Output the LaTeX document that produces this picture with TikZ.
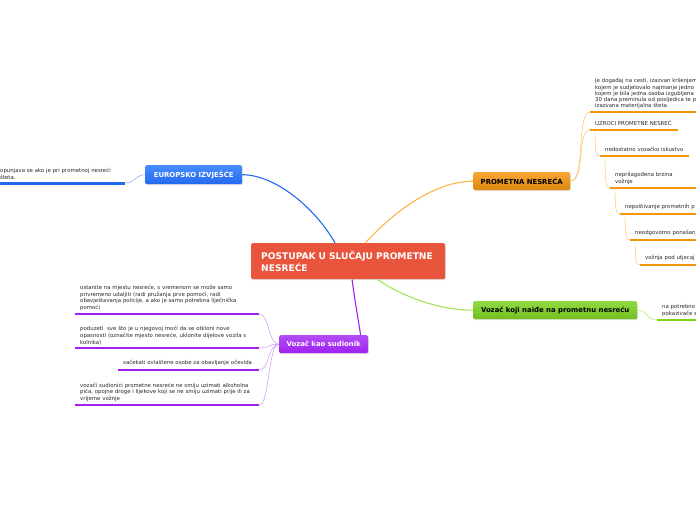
\documentclass[tikz,border=0pt]{standalone}
\usepackage{fontspec}
\setmainfont{DejaVu Sans}
\usetikzlibrary{shadows}

\definecolor{crvena}{RGB}{233,85,60}
\definecolor{plava}{RGB}{35,105,240}
\definecolor{plavasvj}{RGB}{70,140,255}
\definecolor{narancasta}{RGB}{245,150,15}
\definecolor{narancastasvj}{RGB}{252,180,70}
\definecolor{zelena}{RGB}{126,211,33}
\definecolor{zelenasvj}{RGB}{160,230,80}
\definecolor{ljubicasta}{RGB}{160,32,240}
\definecolor{ljubicastasvj}{RGB}{195,130,245}
\definecolor{tekst}{RGB}{40,40,40}

\tikzset{
  tema/.style={rounded corners=1.5pt, anchor=north west, inner sep=0pt,
    font=\bfseries\fontsize{6.9}{8}\selectfont,
    drop shadow={shadow xshift=0.6pt, shadow yshift=-1pt, opacity=0.25}},
  podtema/.style={anchor=south west, inner xsep=5pt, inner ysep=3pt, align=left,
    text=tekst, font=\fontsize{5.4}{6.8}\selectfont},
  grana/.style={line width=1.1pt},
  crta/.style={line width=2pt},
}

\begin{document}
\begin{tikzpicture}[x=1pt, y=-1pt]
    \useasboundingbox (0,0) rectangle (696,520);

    % Sredisnja tema
    \node[tema, fill=crvena, text=white, minimum width=194pt, minimum height=36pt,
      text width=174pt, inner xsep=10pt, align=left,
      font=\bfseries\fontsize{9.1}{11.5}\selectfont] (sredina) at (251,243)
      {POSTUPAK U SLUČAJU PROMETNE\\NESREĆE};

    % Glavne grane
    \node[tema, top color=plavasvj, bottom color=plava, text=white,
      minimum width=97pt, minimum height=19pt] (europsko) at (145,165) {EUROPSKO IZVJEŠĆE};
    \node[tema, top color=narancasta!85!white, bottom color=narancasta!90!black,
      minimum width=97pt, minimum height=18pt] (prometna) at (473,172) {PROMETNA NESREĆA};
    \node[tema, top color=zelena!85!white, bottom color=zelena!90!black,
      minimum width=164pt, minimum height=18pt] (naide) at (473,301) {Vozač koji naiđe na prometnu nesreću};
    \node[tema, top color=ljubicasta!80!white, bottom color=ljubicasta, text=white,
      minimum width=89pt, minimum height=18pt] (sudionik) at (279,335) {Vozač kao sudionik};

    \draw[grana, plava] (sredina.126) .. controls (318,212) and (278,175) .. (europsko.east);
    \draw[grana, narancastasvj] (sredina.47) .. controls (400,205) and (440,181) .. (prometna.west);
    \draw[grana, zelenasvj] (sredina.-32) .. controls (405,298) and (440,310) .. (naide.west);
    \draw[grana, ljubicasta] (sredina.-78) .. controls (355,302) and (358,318) .. (sudionik.14);

    % Europsko izvjesce
    \node[podtema, text width=120pt] (e1) at (-5,183)
      {opunjava se ako je pri prometnoj nesreći\\šteta.};
    \draw[line width=3pt, plava] (e1.south west) -- (e1.south east);
    \draw[plava!70!white, thin] (europsko.west) .. controls (135,175) and (135,183) .. (e1.south east);

    % Prometna nesreca
    \node[podtema, text width=140pt, font=\fontsize{5.4}{6.2}\selectfont] (n1) at (590,112)
      {je događaj na cesti, izazvan kršenjem\\kojem je sudjelovalo najmanje jedno\\kojem je bila jedna osoba izgubljena\\30 dana preminula od posljedica te p\\izazvana materijalna šteta.};
    \node[podtema, text width=78pt, inner ysep=4pt] (n2) at (590,130) {UZROCI PROMETNE NESREĆ};
    \node[podtema, text width=79pt, inner ysep=4pt] (n3) at (600,156) {nedostatno vozačko iskustvo};
    \node[podtema, text width=90pt] (n4) at (610,188) {neprilagođena brzina\\vožnje};
    \node[podtema, text width=90pt, inner ysep=4pt] (n5) at (620,214) {nepoštivanje prometnih p};
    \node[podtema, text width=90pt, inner ysep=4pt] (n6) at (630,240) {neodgovorno ponašanj};
    \node[podtema, text width=90pt, inner ysep=4pt] (n7) at (640,265) {vožnja pod utjecaj};
    \foreach \n in {n1,n2,n3,n4,n5,n6,n7}
      \draw[crta, narancasta] (\n.south west) -- (\n.south east);

    \draw[narancastasvj, thin] (prometna.east) .. controls (586,181) and (576,112) .. (n1.south west);
    \draw[narancastasvj, thin] (prometna.east) .. controls (586,181) and (576,130) .. (n2.south west);
    \draw[narancastasvj, thin] ([xshift=5pt]n2.south west) .. controls (595,152) and (596,156) .. (n3.south west);
    \draw[narancastasvj, thin] ([xshift=5pt]n3.south west) .. controls (605,184) and (606,188) .. (n4.south west);
    \draw[narancastasvj, thin] ([xshift=5pt]n4.south west) .. controls (615,210) and (616,214) .. (n5.south west);
    \draw[narancastasvj, thin] ([xshift=5pt]n5.south west) .. controls (625,236) and (626,240) .. (n6.south west);
    \draw[narancastasvj, thin] ([xshift=5pt]n6.south west) .. controls (635,261) and (636,265) .. (n7.south west);

    % Vozac koji naide
    \node[podtema, text width=60pt] (z1) at (657,320) {na potrebno\\pokazivače s};
    \draw[crta, zelena] (z1.south west) -- (z1.south east);
    \draw[zelenasvj, thin] (naide.east) .. controls (648,310) and (646,320) .. (z1.south west);

    % Vozac kao sudionik
    \node[podtema, text width=174pt] (s1) at (75,314)
      {ostanite na mjestu nesreće, s vremenom se može samo\\privremeno udaljiti (radi pružanja prve pomoći, radi\\obavještavanja policije, a ako je samo potrebna liječnička\\pomoć)};
    \node[podtema, text width=174pt] (s2) at (75,348)
      {poduzeti~ sve što je u njegovoj moći da se otkloni nove\\opasnosti (označite mjesto nesreće, uklonite dijelove vozila s\\kolnika)};
    \node[podtema, text width=131pt, inner ysep=4pt] (s3) at (118,370)
      {sačekati ovlaštene osobe za obavljanje očevida};
    \node[podtema, text width=174pt] (s4) at (75,405)
      {vozači sudionici prometne nesreće ne smiju uzimati alkoholna\\pića, opojne droge i lijekove koji se ne smiju uzimati prije ili za\\vrijeme vožnje};
    \foreach \n in {s1,s2,s3,s4} {
      \draw[crta, ljubicasta] (\n.south west) -- (\n.south east);
      \draw[ljubicastasvj, thin] (sudionik.west) .. controls (268,344) and ([xshift=10pt]\n.south east) .. (\n.south east);
    }
\end{tikzpicture}
\end{document}
